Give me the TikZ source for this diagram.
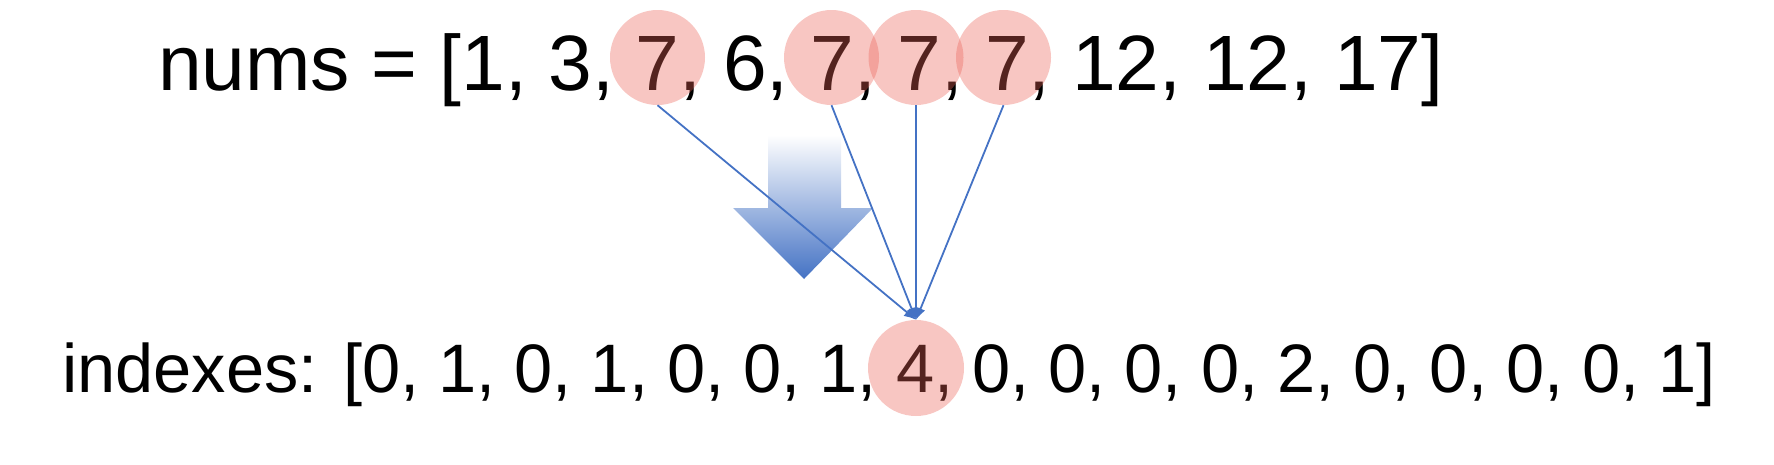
\documentclass[tikz,border=0pt]{standalone}
\usepackage{fontspec}
\setmainfont{Liberation Sans}
\usetikzlibrary{arrows.meta, positioning}
\definecolor{linkblue}{RGB}{68,114,196}
\definecolor{hitred}{RGB}{235,98,87}

\begin{document}
\begin{tikzpicture}[x=1pt, y=-1pt, >={Latex[length=12pt,width=10pt]},
		hit/.style={circle, fill=hitred, fill opacity=0.36, minimum size=95pt, inner sep=0pt},
		link/.style={->, draw=linkblue, line width=1.8pt}]
		\useasboundingbox (0,0) rectangle (1774,464);
		\node[anchor=base west, inner sep=0pt, font=\fontsize{78.5}{90}\selectfont] (nums) at (158,90) {nums = [1, 3, 7, 6, 7, 7, 7, 12, 12, 17]};
		\node[anchor=base west, inner sep=0pt, font=\fontsize{68.6}{80}\selectfont] (indexes) at (62,392) {indexes: [0, 1, 0, 1, 0, 0, 1, 4, 0, 0, 0, 0, 2, 0, 0, 0, 0, 1]};
		\node[hit] (seven1) at (657.5,57.5) {};
		\node[hit] (seven2) at (831.5,57.5) {};
		\node[hit] (seven3) at (916,57.5) {};
		\node[hit] (seven4) at (1003.5,57.5) {};
		\node[hit, minimum size=96pt] (four) at (916,368) {};
		\shade[top color=white, bottom color=linkblue] (768,135) -- (841,135) -- (841,208) -- (873,208) -- (804,279) -- (733,208) -- (768,208) -- cycle;
		\foreach \s in {seven1, seven2, seven3, seven4}
			\draw[link] (\s.south) -- (four.north);
	\end{tikzpicture}
\end{document}
